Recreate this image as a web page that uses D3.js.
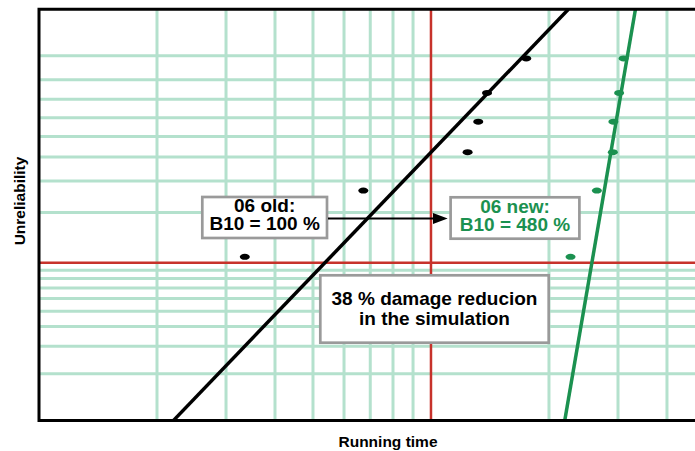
<!DOCTYPE html>
<html>
<head>
<meta charset="utf-8">
<script src="https://cdn.jsdelivr.net/npm/d3@7"></script>
<style>
  html, body { margin: 0; padding: 0; background: #fff; overflow: hidden; }
  svg { display: block; }
  text { font-family: "Liberation Sans", Arial, Helvetica, sans-serif; font-weight: bold; }
</style>
</head>
<body>
<svg id="chart" width="695" height="451"></svg>
<script>
// Median ranks of the six failures in each test run
const ranks = [0.109, 0.266, 0.422, 0.578, 0.734, 0.891];
// Failure times (relative running time) of the old and new variant
const oldTimes = [3.35, 6.72, 12.4, 13.2, 13.9, 17.5];
const newTimes = [22.7, 26.5, 29.1, 29.2, 30.2, 31.0];

// Weibull fits: B10 life and shape parameter
const b10Old = 5.36;
const b10Percent = [100, 480];
const shapes = [2.64, 14.75];

// Probability-paper grid
const timeGrid = [2, 3, 4, 5, 6, 7, 8, 9, 20, 30, 40, 50];
const timeRef = 10;
const probGrid = [0.02, 0.03, 0.04, 0.05, 0.06, 0.07, 0.08, 0.09,
                  0.2, 0.3, 0.4, 0.5, 0.6, 0.7, 0.8, 0.9];
const probRef = 0.10;
const probDomain = [0.01, 0.99];
const timeDomain = [1, 60];

const COLORS = {
  grid: "#b4e1cd",
  ref: "#c7322b",
  old: "#000000",
  neu: "#1b9150",
  box: "#9a9a9a"
};

const svg = d3.select("#chart");
const plotL = 39, plotT = 9.3, plotB = 420.6, plotR = 736;

// Weibull probability transform
const wb = p => Math.log(-Math.log(1 - p));

const x = d3.scaleLog().domain(timeDomain).range([plotL, plotR]);
const y = d3.scaleLinear().domain(probDomain.map(wb)).range([plotB, plotT]);

const plot = svg.append("g");
svg.append("defs").append("clipPath").attr("id", "plotClip")
  .append("rect").attr("x", plotL).attr("y", plotT)
  .attr("width", plotR - plotL).attr("height", plotB - plotT);

// Grid
plot.append("g").selectAll("line").data(timeGrid).join("line")
  .attr("x1", d => x(d)).attr("x2", d => x(d))
  .attr("y1", plotT).attr("y2", plotB)
  .attr("stroke", COLORS.grid).attr("stroke-width", 3);
plot.append("g").selectAll("line").data(probGrid).join("line")
  .attr("x1", plotL).attr("x2", plotR)
  .attr("y1", d => y(wb(d))).attr("y2", d => y(wb(d)))
  .attr("stroke", COLORS.grid).attr("stroke-width", 3);

// Reference lines at t = 10 and F = 10 %
plot.append("line")
  .attr("x1", x(timeRef)).attr("x2", x(timeRef))
  .attr("y1", plotT).attr("y2", plotB)
  .attr("stroke", COLORS.ref).attr("stroke-width", 2.5);
plot.append("line")
  .attr("x1", plotL).attr("x2", plotR)
  .attr("y1", y(wb(probRef))).attr("y2", y(wb(probRef)))
  .attr("stroke", COLORS.ref).attr("stroke-width", 2.5);

// Fitted Weibull lines
const fits = b10Percent.map((pct, i) => ({
  b10: b10Old * pct / 100,
  beta: shapes[i],
  color: i === 0 ? COLORS.old : COLORS.neu
}));
const timeAt = (fit, p) => fit.b10 * Math.pow((-Math.log(1 - p)) / (-Math.log(1 - probRef)), 1 / fit.beta);
const line = d3.line().x(d => x(d.t)).y(d => y(wb(d.p)));

plot.append("g").attr("clip-path", "url(#plotClip)")
  .selectAll("path").data(fits).join("path")
  .attr("d", f => line(probDomain.map(p => ({ t: timeAt(f, p), p }))))
  .attr("fill", "none").attr("stroke", f => f.color).attr("stroke-width", 3.5);

// Failure points
const series = [
  { times: oldTimes, color: COLORS.old },
  { times: newTimes, color: COLORS.neu }
];
series.forEach(s => {
  plot.append("g").selectAll("ellipse")
    .data(s.times.map((t, i) => ({ t, p: ranks[i] })))
    .join("ellipse")
    .attr("cx", d => x(d.t)).attr("cy", d => y(wb(d.p)))
    .attr("rx", 5).attr("ry", 3)
    .attr("fill", s.color);
});

// Frame
svg.append("path")
  .attr("d", `M${plotR},${plotT}H${plotL}V${plotB}H${plotR}`)
  .attr("fill", "none").attr("stroke", "#000").attr("stroke-width", 3);

// Annotation boxes with a two-line label each
function box(x0, y0, x1, y1, lines, color, fontSize, lineGap, firstBase) {
  const g = svg.append("g");
  g.append("rect")
    .attr("x", x0).attr("y", y0).attr("width", x1 - x0).attr("height", y1 - y0)
    .attr("fill", "#fff").attr("stroke", COLORS.box).attr("stroke-width", 2.7);
  const cx = (x0 + x1) / 2;
  g.append("text")
    .attr("text-anchor", "middle")
    .attr("font-size", fontSize)
    .attr("fill", color)
    .selectAll("tspan").data(lines).join("tspan")
    .attr("x", cx)
    .attr("y", (d, i) => firstBase + i * lineGap)
    .text(d => d);
}

box(202.3, 197, 327, 238, ["06 old:", `B10 = ${b10Percent[0]} %`], "#000", 19, 17.8, 212.4);
box(450.6, 197.3, 579.4, 238.7, ["06 new:", `B10 = ${b10Percent[1]} %`], COLORS.neu, 19, 18, 212.7);
box(320.3, 275.3, 548.7, 342.7, ["38 % damage reducion", "in the simulation"], "#000", 19, 19.6, 305.4);

// Arrow between the two B10 boxes
svg.append("line")
  .attr("x1", 328).attr("x2", 436).attr("y1", 218.5).attr("y2", 218.5)
  .attr("stroke", "#000").attr("stroke-width", 2);
svg.append("path")
  .attr("d", "M447.7,218.5L433,213L433,224Z")
  .attr("fill", "#000");

// Axis titles
svg.append("text")
  .attr("transform", "translate(25,201) rotate(-90)")
  .attr("text-anchor", "middle").attr("font-size", 15.5)
  .text("Unreliability");
svg.append("text")
  .attr("x", 388).attr("y", 446.5)
  .attr("text-anchor", "middle").attr("font-size", 15.5)
  .text("Running time");
</script>
</body>
</html>
